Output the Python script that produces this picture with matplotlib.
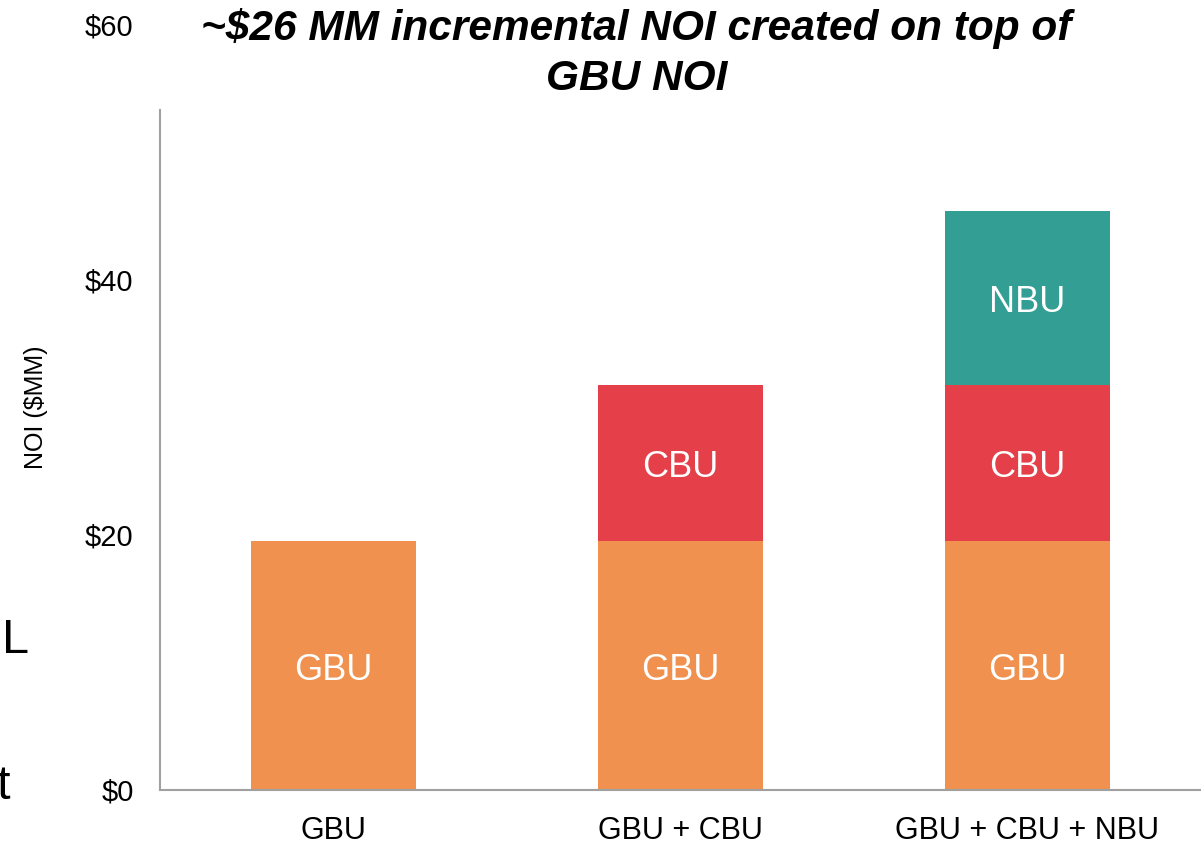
import numpy as np
import matplotlib.pyplot as plt

plt.rcParams['font.family'] = ['Liberation Sans', 'DejaVu Sans']

# NOI by business unit ($MM)
categories = ["GBU", "GBU + CBU", "GBU + CBU + NBU"]
gbu = [19.5, 19.5, 19.5]
cbu = [0, 12.3, 12.3]
nbu = [0, 0, 13.6]
segments = [("GBU", gbu, "#F0914F"), ("CBU", cbu, "#E5404A"), ("NBU", nbu, "#339E94")]
yticks = [0, 20, 40, 60]

fig = plt.figure(figsize=(12.01, 8.44), dpi=100)
ax = fig.add_axes([0.1332, 0.064, 0.8668, 0.9064])

x = np.arange(len(categories))
bottom = np.zeros(len(categories))
for name, vals, color in segments:
    vals = np.array(vals, dtype=float)
    ax.bar(x, vals, width=0.475, bottom=bottom, color=color)
    for xi, b, v in zip(x, bottom, vals):
        if v > 0:
            ax.annotate(name, (xi, b + v / 2), xytext=(0, -3.5),
                        textcoords="offset points", ha="center", va="center",
                        color="white", fontsize=26)
    bottom += vals

ax.set_xlim(-0.5, 2.5)
ax.set_ylim(0, 60)
ax.set_xticks(x)
ax.set_xticklabels(categories, fontsize=22)
ax.set_yticks(yticks)
ax.set_yticklabels([f"${v}" for v in yticks], fontsize=21)
ax.tick_params(length=0)
ax.tick_params(axis="y", pad=19)
ax.tick_params(axis="x", pad=19)

for s in ["top", "right"]:
    ax.spines[s].set_visible(False)
ax.spines["left"].set_bounds(0, 53.3)
for s in ["left", "bottom"]:
    ax.spines[s].set_color("#A0A0A0")
    ax.spines[s].set_linewidth(1.5)

fig.text(0.03, 0.518, "NOI ($MM)", rotation=90, ha="center", va="center", fontsize=18)
fig.text(0.530, 0.937, "~$26 MM incremental NOI created on top of\nGBU NOI",
         ha="center", va="center", fontsize=30.5, fontweight="bold",
         style="italic", linespacing=1.32)

# clipped slide text at the left edge
fig.text(0.002, 0.241, "L", fontsize=35, va="center", ha="left")
fig.text(-0.003, 0.068, "t", fontsize=35, va="center", ha="left")

fig.savefig("out.png", dpi=100)
